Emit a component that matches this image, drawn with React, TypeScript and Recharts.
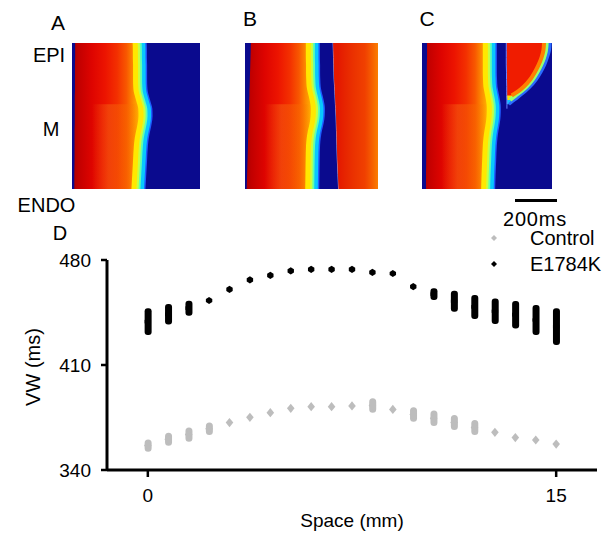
import React from 'react';
import { ComposedChart, Area, Bar, XAxis, YAxis, Scatter, Legend } from 'recharts';

const FONT = '"Liberation Sans", Arial, Helvetica, sans-serif';
const GRAY = '#bdbdbd';
const BLUE = '#0a0a8e';
const N = null;

// ---------- Heat-map panels (space rows 0 = EPI ... 100 = ENDO, values in ms) ----------
const depthRows = [0, 5, 10, 15, 20, 25, 30, 33, 36, 39, 42, 45, 50, 55, 60, 65, 70, 80, 90, 100];

const frontA = [356, 357, 357, 358, 358, 358, 359, 361, 366, 372, 378, 383, 384, 380, 373, 366, 362, 358, 354, 350];
const stripA = [15, 15, 15, 14, 14, 14, 14, 14, 13, 13, 13, 13, 13, 13, 12, 12, 12, 12, 11, 11];

const frontB = [357, 357, 357, 358, 358, 359, 361, 365, 370, 375, 379, 381, 380, 375, 367, 361, 358, 356, 355, 354];
const stripB = [28, 27, 26, 25, 24, 23, 22, 21, 21, 20, 20, 19, 18, 17, 16, 15, 14, 12, 10, 8];
const reexciteB = [420, 421, 422, 423, 424, 425, 427, 428, 429, 430, 431, 432, 434, 435, 436, 437, 438, 440, 443, 446];

const frontC = [357, 357, 357, 357, 357, 358, 360, 364, 368, 372, 375, 376, 375, 371, 365, 360, 357, 354, 351, 349];
const stripC = [24, 24, 24, 23, 23, 23, 23, 22, 22, 22, 22, 22, 21, 21, 21, 20, 20, 20, 19, 19];
const islandOuterC = [611, 608, 598, 585, 567, 545, 516, 494, 468, 442, 415, N, N, N, N, N, N, N, N, N];
const islandMidC = [594, 591, 582, 568, 550, 528, 498, 474, 446, 420, N, N, N, N, N, N, N, N, N, N];
const islandRedC = [582, 579, 570, 556, 538, 516, 485, 460, 428, N, N, N, N, N, N, N, N, N, N, N];
const islandLeftC = [402, 402, 402, 402, 403, 403, 404, 404, 404, 405, 405, 405, N, N, N, N, N, N, N, N];

// ---------- Panel D: VW vs space ----------
const positions = [0, 0.75, 1.5, 2.25, 3, 3.75, 4.5, 5.25, 6, 6.75, 7.5, 8.25, 9, 9.75, 10.5, 11.25, 12, 12.75, 13.5, 14.25, 15];
const controlLow = [352.2, 356.2, 358.9, 363.3, 371.6, 375.1, 378.2, 381.1, 382.2, 382.2, 382.7, 378.2, 380.4, 372.2, 369.3, 366.7, 363.3, 365.1, 361.6, 360, 357.3];
const controlHigh = [360.4, 364.9, 368.4, 371.6, 371.6, 375.1, 378.2, 381.1, 382.2, 382.2, 382.7, 387.8, 380.4, 381.8, 379.6, 376.7, 373.3, 365.1, 361.6, 360, 357.3];
const mutantLow = [430, 437, 442.9, 453, 460.4, 466.7, 469.8, 472.7, 473.8, 473.8, 473.8, 471.8, 471, 462.2, 453.3, 445.5, 440.7, 437.3, 434.4, 430, 423.3];
const mutantHigh = [447.8, 450.7, 452.9, 453, 460.4, 466.7, 469.8, 472.7, 473.8, 473.8, 473.8, 471.8, 471, 462.2, 461.1, 459.5, 456.7, 454.4, 452.7, 450, 447.8];
const yTicks = [340, 410, 480];
const xTicks = [0, 15];

const vwData = positions.map((x, i) => ({
  x,
  cRange: [controlLow[i], controlHigh[i]],
  mRange: [mutantLow[i], mutantHigh[i]],
  cMid: (controlLow[i] + controlHigh[i]) / 2,
  mMid: (mutantLow[i] + mutantHigh[i]) / 2,
}));

type Island = { outer: (number | null)[]; mid: (number | null)[]; red: (number | null)[]; left: (number | null)[] };

function HeatPanel(props: {
  id: string; left: number; top: number; width: number; height: number; tMax: number;
  strip: number[]; front: number[]; second?: number[]; island?: Island;
}) {
  const { id, left, top, width, height, tMax, strip, front, second, island } = props;
  const data = depthRows.map((d, i) => ({
    d,
    full: tMax,
    secBase: second ? second[i] : null,
    secWidth: second ? tMax - second[i] : null,
    secTint: second ? tMax : null,
    strip: strip[i],
    front: front[i],
    cyan: front[i] - 7,
    aqua: front[i] - 24,
    lime: front[i] - 33,
    yellow: front[i] - 43,
    core: front[i] - 67,
    mzone: d >= 40 ? front[i] - 67 : null,
    iOuter: island ? island.outer[i] : null,
    iMid: island ? island.mid[i] : null,
    iRed: island ? island.red[i] : null,
    iLeft: island ? island.left[i] : null,
  }));
  const common = { isAnimationActive: false, dot: false, activeDot: false, type: 'monotone' as const };
  return (
    <div style={{ position: 'absolute', left, top }}>
      <ComposedChart layout="vertical" width={width} height={height} data={data} margin={{ top: 0, right: 0, bottom: 0, left: 0 }}>
        <defs>
          <linearGradient id={`core-${id}`} x1="0" y1="0" x2="1" y2="0">
            <stop offset="0" stopColor="#a80000" />
            <stop offset="0.1" stopColor="#c20000" />
            <stop offset="0.3" stopColor="#de0400" />
            <stop offset="0.5" stopColor="#ec1400" />
            <stop offset="0.68" stopColor="#f33000" />
            <stop offset="0.82" stopColor="#f85800" />
            <stop offset="0.92" stopColor="#fc8a00" />
            <stop offset="1" stopColor="#ffb000" />
          </linearGradient>
          <linearGradient id={`mz-${id}`} x1="0" y1="0" x2="1" y2="0">
            <stop offset="0.3" stopColor="#f46010" stopOpacity="0" />
            <stop offset="0.55" stopColor="#f46010" stopOpacity="0.55" />
            <stop offset="0.8" stopColor="#f87000" stopOpacity="0.35" />
            <stop offset="1" stopColor="#f87000" stopOpacity="0" />
          </linearGradient>
          <linearGradient id={`tint-${id}`} x1="0" y1="0" x2="1" y2="0">
            <stop offset="0.7" stopColor="#ff8800" stopOpacity="0" />
            <stop offset="0.9" stopColor="#ff7000" stopOpacity="0.45" />
            <stop offset="1" stopColor="#ff9000" stopOpacity="0.85" />
          </linearGradient>
        </defs>
        <XAxis type="number" domain={[0, tMax]} hide />
        <YAxis type="number" dataKey="d" domain={[0, 100]} hide />
        <Area {...common} dataKey="full" fill={BLUE} fillOpacity={1} stroke="none" />
        {second && <Area {...common} dataKey="secBase" stackId="re" fill="none" fillOpacity={0} stroke="#f0f0ff" strokeWidth={1} strokeOpacity={0.7} />}
        {second && <Area {...common} dataKey="secWidth" stackId="re" fill="#e41800" fillOpacity={1} stroke="none" />}
        {second && <Area {...common} dataKey="secTint" fill={`url(#tint-${id})`} fillOpacity={1} stroke="none" />}
        {island && <Area {...common} dataKey="iOuter" fill="#10c4ff" fillOpacity={1} stroke="#2a6cff" strokeWidth={3} />}
        {island && <Area {...common} dataKey="iMid" fill="#ffe400" fillOpacity={1} stroke="#98ff70" strokeWidth={4} />}
        {island && <Area {...common} dataKey="iRed" fill="#f01c00" fillOpacity={1} stroke="#ff8000" strokeWidth={4} />}
        {island && <Area {...common} dataKey="iLeft" fill={BLUE} fillOpacity={1} stroke="#6a80ff" strokeWidth={1} />}
        <Area {...common} dataKey="front" fill="#1e5cff" fillOpacity={1} stroke="none" />
        <Area {...common} dataKey="cyan" fill="#08c8ff" fillOpacity={1} stroke="none" />
        <Area {...common} dataKey="aqua" fill="#60ffb0" fillOpacity={1} stroke="none" />
        <Area {...common} dataKey="lime" fill="#c8ff40" fillOpacity={1} stroke="none" />
        <Area {...common} dataKey="yellow" fill="#ffe800" fillOpacity={1} stroke="none" />
        <Area {...common} dataKey="core" fill={`url(#core-${id})`} fillOpacity={1} stroke="none" />
        <Area {...common} dataKey="mzone" fill={`url(#mz-${id})`} fillOpacity={1} stroke="none" />
        <Area {...common} dataKey="strip" fill={BLUE} fillOpacity={1} stroke="none" />
      </ComposedChart>
    </div>
  );
}

function Txt(props: { x: number; y: number; size: number; children: React.ReactNode; rotate?: number; spacing?: number }) {
  const { x, y, size, children, rotate, spacing } = props;
  return (
    <div
      style={{
        position: 'absolute', left: x, top: y, fontSize: size, lineHeight: 1, whiteSpace: 'nowrap',
        color: '#000', fontFamily: FONT, letterSpacing: spacing || 0,
        transform: `translate(-50%, -50%)${rotate ? ` rotate(${rotate}deg)` : ''}`,
      }}
    >
      {children}
    </div>
  );
}

const GrayDiamond = (p: any) => (
  <polygon
    points={`${p.cx},${p.cy - 4.6} ${p.cx + 3.8},${p.cy} ${p.cx},${p.cy + 4.6} ${p.cx - 3.8},${p.cy}`}
    fill={p.fill}
  />
);
const BlackDot = (p: any) => (
  <polygon
    points={`${p.cx},${p.cy - 3.6} ${p.cx + 3.2},${p.cy - 1.6} ${p.cx + 3.2},${p.cy + 1.6} ${p.cx},${p.cy + 3.6} ${p.cx - 3.2},${p.cy + 1.6} ${p.cx - 3.2},${p.cy - 1.6}`}
    fill={p.fill}
  />
);

const renderLegend = (props: any) => {
  const payload = (props.payload || []).filter((e: any) => e.type !== 'none');
  return (
    <div style={{ fontFamily: FONT }}>
      {payload.map((e: any) => (
        <div key={e.value} style={{ display: 'flex', alignItems: 'center', height: 26 }}>
          <div style={{ width: 41, height: 26, position: 'relative' }}>
            <svg width={10} height={10} style={{ position: 'absolute', left: 0, top: 8 }}>
              <polygon points="5,2 8,5 5,8 2,5" fill={e.color} />
            </svg>
          </div>
          <span style={{ fontSize: 20, lineHeight: '26px', color: '#000' }}>{e.value}</span>
        </div>
      ))}
    </div>
  );
};

export default function App() {
  const axisStyle = { stroke: '#000', strokeWidth: 3 };
  const tickLineStyle = { stroke: '#000', strokeWidth: 2.5 };
  const tickStyle = { fill: '#000', fontSize: 19, fontFamily: FONT };
  return (
    <div style={{ position: 'absolute', left: 0, top: 0, width: 615, height: 533, background: '#fff', overflow: 'hidden', fontFamily: FONT }}>
      <HeatPanel id="A" left={72} top={43} width={128} height={146} tMax={610} strip={stripA} front={frontA} />
      <HeatPanel id="B" left={245} top={43} width={133} height={146} tMax={634} strip={stripB} front={frontB} second={reexciteB} />
      <HeatPanel
        id="C" left={422} top={43} width={130} height={146} tMax={620} strip={stripC} front={frontC}
        island={{ outer: islandOuterC, mid: islandMidC, red: islandRedC, left: islandLeftC }}
      />

      <Txt x={58} y={22} size={21}>A</Txt>
      <Txt x={250} y={17.5} size={21}>B</Txt>
      <Txt x={427} y={17.5} size={21}>C</Txt>
      <Txt x={49} y={54.5} size={20}>EPI</Txt>
      <Txt x={51} y={128.5} size={20}>M</Txt>
      <Txt x={46.5} y={204.5} size={20}>ENDO</Txt>
      <Txt x={60} y={232.5} size={20}>D</Txt>
      <div style={{ position: 'absolute', left: 515, top: 198.5, width: 42, height: 3, background: '#000' }} />
      <Txt x={535} y={218.5} size={20} spacing={0.8}>200ms</Txt>

      <div style={{ position: 'absolute', left: 0, top: 225 }}>
        <ComposedChart width={615} height={308} data={vwData} margin={{ top: 35, right: 18, bottom: 9, left: 0 }} barGap={-7}>
          <XAxis
            type="number" dataKey="x" domain={[-1.5, 16.5]} ticks={xTicks} interval={0} height={54}
            tickSize={7} tickMargin={12} axisLine={axisStyle} tickLine={tickLineStyle} tick={tickStyle}
          />
          <YAxis
            type="number" domain={[340, 480]} ticks={yTicks} interval={0} width={107}
            tickSize={6} tickMargin={10} axisLine={axisStyle} tickLine={tickLineStyle} tick={tickStyle}
          />
          <Legend
            layout="vertical" align="center" verticalAlign="middle" content={renderLegend}
            wrapperStyle={{ left: 489, top: 0, width: 126, height: 52 }}
          />
          <Bar dataKey="cRange" fill={GRAY} barSize={7} radius={3.5} legendType="none" isAnimationActive={false} />
          <Bar dataKey="mRange" fill="#000" barSize={7} radius={3} legendType="none" isAnimationActive={false} />
          <Scatter name="Control" dataKey="cMid" fill={GRAY} shape={GrayDiamond} isAnimationActive={false} />
          <Scatter name="E1784K" dataKey="mMid" fill="#000" shape={BlackDot} isAnimationActive={false} />
        </ComposedChart>
      </div>

      <Txt x={32.5} y={366.5} size={20} rotate={-90}>VW (ms)</Txt>
      <Txt x={352} y={520} size={19}>Space (mm)</Txt>
    </div>
  );
}
